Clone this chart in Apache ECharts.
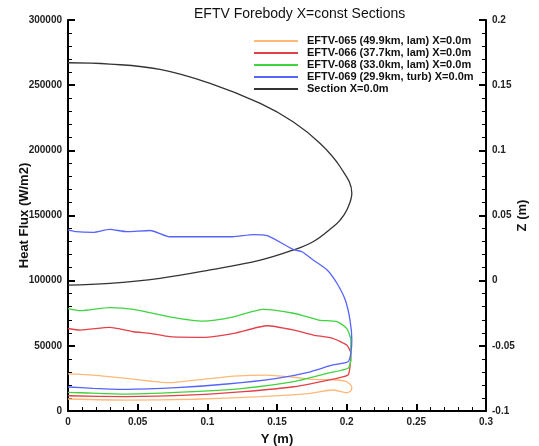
<!DOCTYPE html>
<html>
<head>
<meta charset="utf-8">
<script src="https://cdn.jsdelivr.net/npm/echarts@6/dist/echarts.min.js"></script>
<style>
  html, body { margin: 0; padding: 0; background: #fff; }
  #chart { width: 539px; height: 446px; }
</style>
</head>
<body>
<div id="chart"></div>
<script>
// [Y (m), heat flux (W/m2)] along each section, upper branch then back along the lower one
const eftv065 = [
  [0, 28500], [0.018, 27600], [0.042, 25100], [0.073, 21700], [0.097, 24300],
  [0.119, 26800], [0.143, 27600], [0.162, 25900], [0.176, 24300], [0.193, 23800],
  [0.200, 22500], [0.2037, 18600], [0.203, 15400], [0.200, 14000], [0.190, 16100],
  [0.174, 13600], [0.138, 11000], [0.090, 9000], [0.042, 8400], [0, 9200]
];
const eftv066 = [
  [0, 63300], [0.009, 62100], [0.030, 64200], [0.047, 60800], [0.059, 59600],
  [0.073, 57000], [0.097, 56500], [0.119, 59600], [0.143, 65400], [0.162, 62100],
  [0.176, 58300], [0.190, 55800], [0.200, 50600], [0.203, 44300], [0.2024, 34000],
  [0.201, 27600], [0.193, 25100], [0.162, 18600], [0.126, 14800], [0.090, 12300],
  [0.042, 11000], [0, 11700]
];
const eftv068 = [
  [0, 78600], [0.009, 77000], [0.030, 79300], [0.047, 78000], [0.073, 72300],
  [0.097, 69000], [0.119, 72300], [0.140, 78000], [0.162, 75000], [0.180, 69800],
  [0.193, 68500], [0.200, 63400], [0.203, 54500], [0.203, 39100], [0.201, 32800],
  [0.186, 28900], [0.162, 22500], [0.126, 17400], [0.090, 14800], [0.042, 13000],
  [0.009, 14000], [0, 14300]
];
const eftv069 = [
  [0, 139000], [0.006, 137600], [0.018, 137100], [0.030, 139400], [0.042, 137600],
  [0.059, 138500], [0.073, 133700], [0.118, 133700], [0.133, 135400], [0.1435, 134400],
  [0.1615, 124000], [0.168, 122200], [0.176, 115900], [0.186, 108200], [0.193, 98000],
  [0.199, 85200], [0.2024, 69800], [0.2037, 54500], [0.203, 44300], [0.201, 37800],
  [0.190, 35300], [0.174, 30100], [0.150, 25100], [0.114, 20700], [0.078, 17900],
  [0.042, 16600], [0.018, 17400], [0, 18400]
];
// [Y (m), Z (m)] outline of the section
const sectionX0 = [
  [0, 0.1672], [0.030, 0.1662], [0.066, 0.1621], [0.102, 0.1514], [0.138, 0.1360],
  [0.1615, 0.1219], [0.181, 0.1053], [0.1953, 0.0874], [0.2037, 0.0670], [0.2001, 0.0542],
  [0.1953, 0.0465], [0.1903, 0.0414], [0.1759, 0.0299], [0.1615, 0.0235], [0.138, 0.0158],
  [0.102, 0.0082], [0.066, 0.0018], [0.030, -0.0021], [0, -0.0034]
];

const seriesNames = [
  'EFTV-065 (49.9km, lam) X=0.0m',
  'EFTV-066 (37.7km, lam) X=0.0m',
  'EFTV-068 (33.0km, lam) X=0.0m',
  'EFTV-069 (29.9km, turb) X=0.0m',
  'Section X=0.0m'
];
const seriesColors = ['#FFB877', '#E4404A', '#3FD43F', '#5563FF', '#333333'];
const seriesData = [eftv065, eftv066, eftv068, eftv069, sectionX0];

const font = "'Liberation Sans', Arial, sans-serif";
const labelStyle = { color: '#222', fontSize: 10, fontWeight: 'bold', fontFamily: font };
const nameStyle = { color: '#111', fontSize: 13, fontWeight: 'bold', fontFamily: font };

const axisCommon = {
  axisLine: { show: true, lineStyle: { color: '#000', width: 2 } },
  axisTick: { show: true, inside: true, length: 7, lineStyle: { color: '#000', width: 2 } },
  minorTick: { show: true, splitNumber: 5, length: 4, lineStyle: { color: '#000', width: 1 } },
  splitLine: { show: false },
  axisLabel: Object.assign({ margin: 6 }, labelStyle),
  nameTextStyle: nameStyle,
  nameLocation: 'middle',
  nameMoveOverlap: false
};

let myChart = echarts.init(document.getElementById('chart'));
myChart.setOption({
  animation: false,
  title: {
    text: 'EFTV Forebody X=const Sections',
    left: 189,
    top: 2,
    textStyle: { color: '#111', fontSize: 14, fontWeight: 'normal', fontFamily: font }
  },
  legend: {
    orient: 'vertical',
    left: 254,
    top: 35,
    icon: 'rect',
    itemWidth: 44,
    itemHeight: 2,
    itemGap: 0,
    padding: 0,
    data: seriesNames,
    textStyle: { color: '#111', fontSize: 11, fontWeight: 'bold', fontFamily: font, padding: [0, 0, 0, 4], lineHeight: 12 }
  },
  grid: { left: 68, right: 53, top: 20, bottom: 35, containLabel: false, outerBoundsMode: 'none' },
  xAxis: Object.assign({}, axisCommon, {
    type: 'value',
    min: 0, max: 0.3, interval: 0.05,
    name: 'Y (m)',
    nameGap: 22,
    axisLabel: Object.assign({}, axisCommon.axisLabel, {
      formatter: v => String(+v.toFixed(2))
    })
  }),
  yAxis: [
    Object.assign({}, axisCommon, {
      type: 'value',
      position: 'left',
      min: 0, max: 300000, interval: 50000,
      name: 'Heat Flux (W/m2)',
      nameGap: 37,
      axisLabel: Object.assign({}, axisCommon.axisLabel, {
        formatter: v => v.toFixed(0)
      })
    }),
    Object.assign({}, axisCommon, {
      type: 'value',
      position: 'right',
      min: -0.1, max: 0.2, interval: 0.05,
      name: 'Z (m)',
      nameGap: 30,
      nameRotate: 90,
      axisLabel: Object.assign({}, axisCommon.axisLabel, {
        formatter: v => String(+v.toFixed(2))
      })
    })
  ],
  series: seriesNames.map((name, i) => ({
    name: name,
    type: 'line',
    yAxisIndex: i === 4 ? 1 : 0,
    symbol: 'none',
    smooth: i === 4 ? 0.4 : 0.2,
    data: seriesData[i],
    color: seriesColors[i],
    lineStyle: { color: seriesColors[i], width: 1.3 },
    z: i === 4 ? 1 : 2
  }))
});
</script>
</body>
</html>
